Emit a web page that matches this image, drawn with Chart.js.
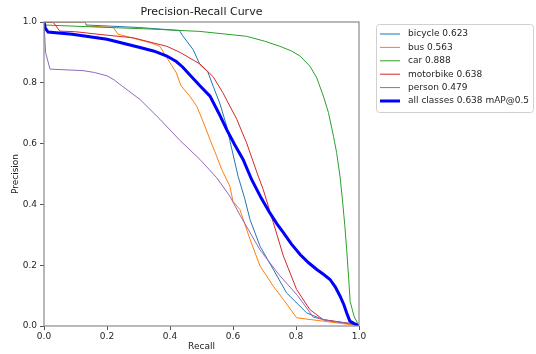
<!DOCTYPE html>
<html>
<head>
<meta charset="utf-8">
<script src="https://cdn.jsdelivr.net/npm/chart.js@4.4.1/dist/chart.umd.min.js"></script>
<style>
  html, body { margin: 0; padding: 0; background: #fff; }
  #wrap { width: 536px; height: 354px; }
</style>
</head>
<body>
<div id="wrap"><canvas id="pr"></canvas></div>
<script>
// --- data ---
const classNames = ['bicycle', 'bus', 'car', 'motorbike', 'person'];
const classAP    = [0.623, 0.563, 0.888, 0.638, 0.479];
const mapAll     = 0.638;
const xTicks     = [0.0, 0.2, 0.4, 0.6, 0.8, 1.0];
const yTicks     = [0.0, 0.2, 0.4, 0.6, 0.8, 1.0];

const bicycleR = [0, 0.13, 0.135, 0.30, 0.43, 0.44, 0.473, 0.495, 0.52, 0.537, 0.559, 0.58, 0.59, 0.616, 0.637, 0.654, 0.686, 0.728, 0.77, 0.834, 0.886, 0.99, 1.0];
const bicycleP = [1.0, 1.0, 0.99, 0.982, 0.972, 0.955, 0.91, 0.86, 0.836, 0.789, 0.73, 0.657, 0.61, 0.493, 0.42, 0.35, 0.262, 0.186, 0.109, 0.043, 0.021, 0.005, 0.0];

const busR = [0, 0.13, 0.135, 0.22, 0.235, 0.337, 0.368, 0.40, 0.42, 0.435, 0.463, 0.485, 0.511, 0.527, 0.548, 0.564, 0.59, 0.60, 0.622, 0.654, 0.686, 0.728, 0.76, 0.802, 0.886, 0.993, 1.0];
const busP = [1.0, 1.0, 0.987, 0.982, 0.96, 0.932, 0.92, 0.866, 0.833, 0.79, 0.756, 0.723, 0.657, 0.613, 0.559, 0.515, 0.46, 0.41, 0.383, 0.285, 0.197, 0.131, 0.087, 0.027, 0.016, 0.002, 0.0];

const carR = [0, 0.005, 0.178, 0.336, 0.495, 0.643, 0.70, 0.749, 0.785, 0.813, 0.844, 0.866, 0.887, 0.903, 0.919, 0.929, 0.94, 0.947, 0.955, 0.961, 0.967, 0.972, 0.985, 1.0];
const carP = [1.0, 0.99, 0.983, 0.977, 0.969, 0.953, 0.937, 0.92, 0.905, 0.888, 0.855, 0.816, 0.756, 0.702, 0.624, 0.57, 0.49, 0.42, 0.33, 0.25, 0.16, 0.08, 0.03, 0.0];

const motorbikeR = [0, 0.03, 0.05, 0.1, 0.178, 0.283, 0.39, 0.432, 0.495, 0.537, 0.568, 0.612, 0.643, 0.68, 0.696, 0.728, 0.76, 0.802, 0.844, 0.886, 0.993, 1.0];
const motorbikeP = [1.0, 0.998, 0.97, 0.968, 0.959, 0.948, 0.92, 0.9, 0.862, 0.82, 0.767, 0.68, 0.603, 0.493, 0.449, 0.34, 0.23, 0.12, 0.054, 0.021, 0.005, 0.0];

const personR = [0, 0.005, 0.019, 0.124, 0.16, 0.2, 0.222, 0.247, 0.305, 0.368, 0.432, 0.495, 0.548, 0.59, 0.622, 0.686, 0.745, 0.805, 0.855, 0.908, 0.993, 1.0];
const personP = [1.0, 0.9, 0.845, 0.84, 0.834, 0.823, 0.81, 0.79, 0.745, 0.68, 0.61, 0.548, 0.488, 0.427, 0.365, 0.25, 0.17, 0.1, 0.029, 0.016, 0.005, 0.0];

const allR = [0, 0.004, 0.013, 0.09, 0.2, 0.305, 0.35, 0.39, 0.42, 0.44, 0.464, 0.495, 0.527, 0.555, 0.58, 0.605, 0.632, 0.659, 0.69, 0.717, 0.74, 0.76, 0.785, 0.813, 0.84, 0.866, 0.887, 0.908, 0.925, 0.94, 0.952, 0.961, 0.971, 0.985, 1.0];
const allP = [1.0, 0.98, 0.967, 0.96, 0.943, 0.916, 0.904, 0.888, 0.87, 0.852, 0.825, 0.79, 0.756, 0.70, 0.646, 0.597, 0.548, 0.482, 0.42, 0.372, 0.335, 0.307, 0.27, 0.235, 0.208, 0.186, 0.17, 0.153, 0.128, 0.098, 0.07, 0.043, 0.016, 0.008, 0.0];

const classR = [bicycleR, busR, carR, motorbikeR, personR];
const classP = [bicycleP, busP, carP, motorbikeP, personP];
const colors = ['#1f77b4', '#ff7f0e', '#2ca02c', '#d62728', '#9467bd'];

const toPts = (r, p) => r.map((x, i) => ({ x, y: p[i] }));

const datasets = classNames.map((name, i) => ({
    label: `${name} ${classAP[i].toFixed(3)}`,
    data: toPts(classR[i], classP[i]),
    borderColor: colors[i],
    borderWidth: 1,
    order: classNames.length - i,
}));
datasets.push({
    label: `all classes ${mapAll.toFixed(3)} mAP@0.5`,
    data: toPts(allR, allP),
    borderColor: '#0000ff',
    borderWidth: 3,
    order: 0,
});

// matplotlib-like box around the plot + outside legend
const frameAndLegend = {
    id: 'frameAndLegend',
    afterDatasetsDraw(chart) {
        const { ctx, chartArea: a } = chart;
        ctx.save();
        ctx.strokeStyle = '#8a8a8a';
        ctx.lineWidth = 1.2;
        ctx.strokeRect(a.left, a.top, a.right - a.left, a.bottom - a.top);

        const bx = 376, by = 24, bw = 157, bh = 88;
        ctx.strokeStyle = '#d0d0d0';
        ctx.lineWidth = 1;
        ctx.beginPath();
        ctx.roundRect(bx + 0.5, by + 0.5, bw, bh, 3);
        ctx.fillStyle = '#fff';
        ctx.fill();
        ctx.stroke();

        ctx.font = '9px "DejaVu Sans"';
        ctx.textBaseline = 'middle';
        ctx.fillStyle = '#262626';
        chart.data.datasets.forEach((ds, i) => {
            const y = by + 10 + i * 13.4;
            ctx.strokeStyle = ds.borderColor;
            ctx.lineWidth = ds.borderWidth;
            ctx.beginPath();
            ctx.moveTo(380, y);
            ctx.lineTo(400, y);
            ctx.stroke();
            ctx.fillText(ds.label, 408, y);
        });
        ctx.restore();
    }
};

const tickFont = { family: 'DejaVu Sans', size: 9 };

new Chart(document.getElementById('pr'), {
    type: 'scatter',
    data: { datasets },
    options: {
        responsive: true,
        maintainAspectRatio: false,
        animation: false,
        showLine: true,
        elements: { point: { radius: 0 }, line: { tension: 0 } },
        layout: { padding: { left: 0, right: 177, top: 0, bottom: 0 } },
        plugins: {
            legend: { display: false },
            tooltip: { enabled: false },
            title: {
                display: true,
                text: 'Precision-Recall Curve',
                fullSize: false,
                color: '#1a1a1a',
                font: { family: 'DejaVu Sans', size: 11, weight: 'normal' },
                padding: { top: 6, bottom: 2.8 }
            }
        },
        scales: {
            x: {
                type: 'linear', min: 0, max: 1,
                afterBuildTicks: s => { s.ticks = xTicks.map(v => ({ value: v })); },
                afterFit: s => { s.height = 28; },
                ticks: { color: '#262626', font: tickFont, padding: 1, maxRotation: 0,
                         callback: v => v.toFixed(1) },
                grid: { display: true, drawOnChartArea: false, drawTicks: true, tickLength: 4, color: '#555' },
                border: { display: false },
                title: { display: true, text: 'Recall', color: '#1a1a1a', font: tickFont,
                         padding: { top: 0, bottom: 2 } }
            },
            y: {
                type: 'linear', min: 0, max: 1,
                afterBuildTicks: s => { s.ticks = yTicks.map(v => ({ value: v })); },
                afterFit: s => { s.width = 44; },
                ticks: { color: '#262626', font: tickFont, padding: 3,
                         callback: v => v.toFixed(1) },
                grid: { display: true, drawOnChartArea: false, drawTicks: true, tickLength: 4, color: '#555' },
                border: { display: false },
                title: { display: true, text: 'Precision', color: '#1a1a1a', font: tickFont,
                         padding: { top: 10, bottom: 0 } }
            }
        }
    },
    plugins: [frameAndLegend]
});
</script>
</body>
</html>
